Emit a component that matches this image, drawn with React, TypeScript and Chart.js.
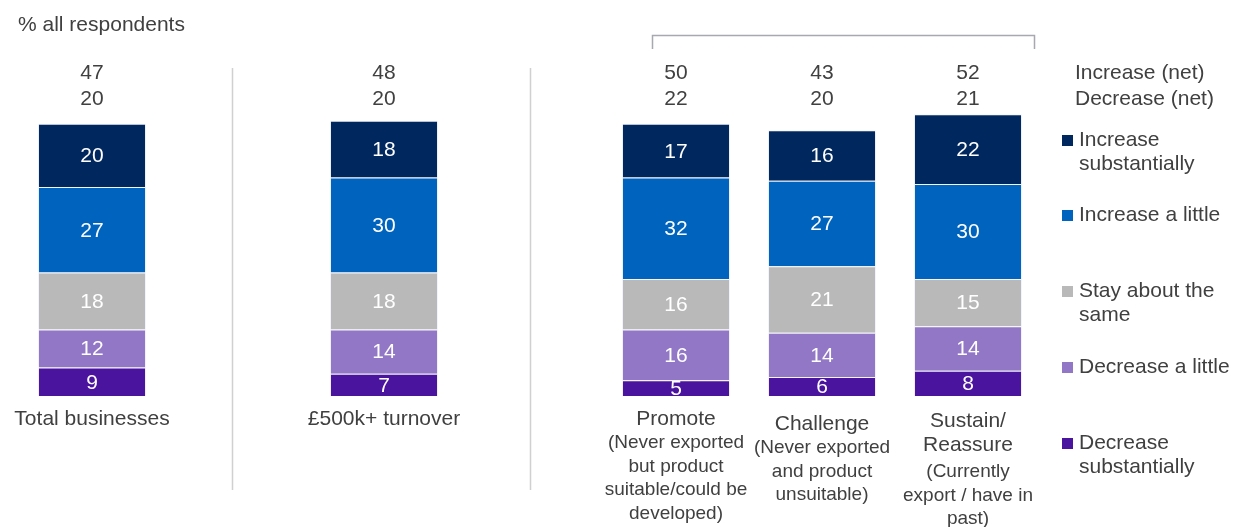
import { useEffect, useRef } from 'react';
import { Chart, registerables } from 'chart.js';

Chart.register(...registerables);

// ---------- data ----------
const categoryTitles: string[][] = [
  ['Total businesses'],
  [],
  ['£500k+ turnover'],
  [],
  ['Promote'],
  ['Challenge'],
  ['Sustain/', 'Reassure'],
];
const categorySubtitles: string[][] = [
  [],
  [],
  [],
  [],
  ['(Never exported', 'but product', 'suitable/could be', 'developed)'],
  ['(Never exported', 'and product', 'unsuitable)'],
  ['(Currently', 'export / have in', 'past)'],
];

const seriesNames = [
  'Decrease substantially',
  'Decrease a little',
  'Stay about the same',
  'Increase a little',
  'Increase substantially',
];
const decreaseSubstantially = [9, null, 7, null, 5, 6, 8];
const decreaseLittle = [12, null, 14, null, 16, 14, 14];
const staySame = [18, null, 18, null, 16, 21, 15];
const increaseLittle = [27, null, 30, null, 32, 27, 30];
const increaseSubstantially = [20, null, 18, null, 17, 16, 22];

const increaseNet = [47, null, 48, null, 50, 43, 52];
const decreaseNet = [20, null, 20, null, 22, 20, 21];

const legendLines: string[][] = [
  ['Increase', 'substantially'],
  ['Increase a little'],
  ['Stay about the', 'same'],
  ['Decrease a little'],
  ['Decrease', 'substantially'],
];

const colors = ['#4A149F', '#9177C5', '#B9B9B9', '#0063BE', '#00285E'];
const legendColors = ['#00285E', '#0063BE', '#B9B9B9', '#9177C5', '#4A149F'];

const FONT = '"Liberation Sans", Arial, sans-serif';
const TEXT = '#404040';

const overlayPlugin = {
  id: 'overlay',
  afterDatasetsDraw(chart: any) {
    const ctx = chart.ctx as CanvasRenderingContext2D;
    const xs = chart.scales.x;
    ctx.save();
    ctx.textAlign = 'center';
    ctx.textBaseline = 'middle';

    // segment values
    ctx.font = `21px ${FONT}`;
    ctx.fillStyle = '#FFFFFF';
    chart.data.datasets.forEach((ds: any, di: number) => {
      const meta = chart.getDatasetMeta(di);
      ds.data.forEach((v: number | null, i: number) => {
        if (v == null) return;
        const bar = meta.data[i] as any;
        ctx.fillText(String(v), bar.x, (bar.y + bar.base) / 2 + 1);
      });
    });

    // net labels
    ctx.fillStyle = TEXT;
    increaseNet.forEach((v, i) => {
      if (v == null) return;
      const x = xs.getPixelForValue(i);
      ctx.fillText(String(v), x, 73);
      ctx.fillText(String(decreaseNet[i]), x, 99);
    });
    ctx.textAlign = 'left';
    ctx.fillText('Increase (net)', 1075, 73);
    ctx.fillText('Decrease (net)', 1075, 99);

    // category labels
    ctx.textAlign = 'center';
    const startY = [419, 0, 419, 0, 419, 424, 421];
    categoryTitles.forEach((lines, i) => {
      if (!lines.length) return;
      const x = xs.getPixelForValue(i);
      let y = startY[i];
      ctx.font = `21px ${FONT}`;
      lines.forEach((l) => {
        ctx.fillText(l, x, y);
        y += 24;
      });
      ctx.font = `19px ${FONT}`;
      if (i === 6) y += 3;
      categorySubtitles[i].forEach((l) => {
        ctx.fillText(l, x, y);
        y += 23.5;
      });
    });

    // subtitle
    ctx.textAlign = 'left';
    ctx.font = `21px ${FONT}`;
    ctx.fillText('% all respondents', 18, 25);

    // separators
    ctx.strokeStyle = '#D0D0D0';
    ctx.lineWidth = 1.5;
    [0.96, 3].forEach((v) => {
      const x = Math.round(xs.getPixelForValue(v)) + 0.5;
      ctx.beginPath();
      ctx.moveTo(x, 68);
      ctx.lineTo(x, 490);
      ctx.stroke();
    });

    // bracket
    const bx1 = Math.round(xs.getPixelForValue(3.836)) + 0.5;
    const bx2 = Math.round(xs.getPixelForValue(6.452)) + 0.5;
    ctx.strokeStyle = '#A8A8B0';
    ctx.beginPath();
    ctx.moveTo(bx1, 49);
    ctx.lineTo(bx1, 35.5);
    ctx.lineTo(bx2, 35.5);
    ctx.lineTo(bx2, 49);
    ctx.stroke();

    // legend
    const legendY = [140, 215, 291, 367, 443];
    ctx.font = `21px ${FONT}`;
    legendLines.forEach((lines, i) => {
      ctx.fillStyle = legendColors[i];
      ctx.fillRect(1062, legendY[i] - 5, 11, 11);
      ctx.fillStyle = TEXT;
      lines.forEach((l, k) => ctx.fillText(l, 1079, legendY[i] + k * 24.5));
    });

    ctx.restore();
  },
};

export default function App() {
  const ref = useRef<HTMLCanvasElement | null>(null);
  useEffect(() => {
    if (!ref.current) return;
    const series = [decreaseSubstantially, decreaseLittle, staySame, increaseLittle, increaseSubstantially];
    const chart = new Chart(ref.current, {
      type: 'bar',
      data: {
        labels: categoryTitles.map((l) => l.join(' ')),
        datasets: series.map((d, i) => ({
          label: seriesNames[i],
          data: d,
          backgroundColor: colors[i],
          borderColor: 'rgba(215,220,245,0.3)',
          borderWidth: 1,
          barPercentage: 0.74,
          categoryPercentage: 1,
        })),
      },
      options: {
        responsive: false,
        animation: false,
        layout: { padding: { left: 19, right: 194, top: 79.5, bottom: 131 } },
        plugins: { legend: { display: false }, tooltip: { enabled: false } },
        scales: {
          x: { stacked: true, display: false },
          y: { stacked: true, display: false, min: 0, max: 100 },
        },
      },
      plugins: [overlayPlugin],
    });
    return () => chart.destroy();
  }, []);
  return (
    <div style={{ position: 'absolute', left: 0, top: 0, width: 1235, height: 527, background: '#fff' }}>
      <canvas ref={ref} width={1235} height={527} style={{ display: 'block' }} />
    </div>
  );
}
